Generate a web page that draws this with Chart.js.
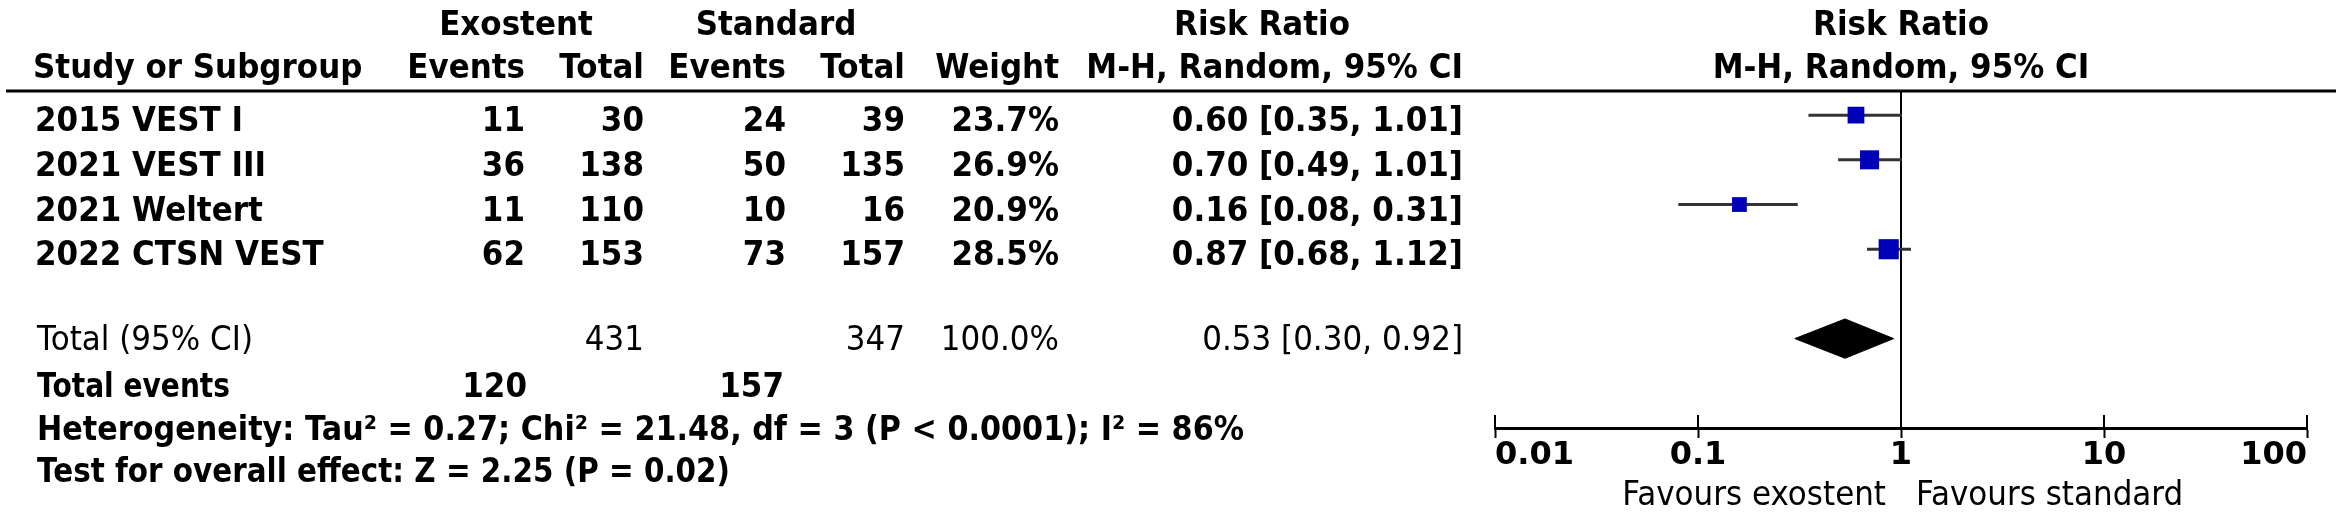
<!DOCTYPE html>
<html>
<head>
<meta charset="utf-8">
<script src="https://cdn.jsdelivr.net/npm/chart.js@4.4.1/dist/chart.umd.min.js"></script>
<style>
  html, body { margin: 0; padding: 0; background: #fff; }
  canvas { display: block; }
</style>
</head>
<body>
<canvas id="forest" width="2342" height="515"></canvas>
<script>
// study rows
const studies = ['2015 VEST I', '2021 VEST III', '2021 Weltert', '2022 CTSN VEST'];
const exoEvents = [11, 36, 11, 62];
const exoTotal = [30, 138, 110, 153];
const stdEvents = [24, 50, 10, 73];
const stdTotal = [39, 135, 16, 157];
const weights = [23.7, 26.9, 20.9, 28.5];
const riskRatio = [0.60, 0.70, 0.16, 0.87];
const ciLower = [0.35, 0.49, 0.08, 0.68];
const ciUpper = [1.01, 1.01, 0.31, 1.12];

// pooled (random effects) row
const pooledRR = 0.53;
const pooledLower = 0.30;
const pooledUpper = 0.92;
const totalExo = 431;
const totalStd = 347;
const totalWeight = 100.0;
const totalExoEvents = 120;
const totalStdEvents = 157;
const heterogeneity = 'Heterogeneity: Tau² = 0.27; Chi² = 21.48, df = 3 (P < 0.0001); I² = 86%';
const overallEffect = 'Test for overall effect: Z = 2.25 (P = 0.02)';

const xTicks = [0.01, 0.1, 1, 10, 100];
const favourLabels = ['Favours exostent', 'Favours standard'];

const totalRow = studies.length + 1;
const fmt = (v) => v.toFixed(2);
const rrText = (r, lo, hi) => `${fmt(r)} [${fmt(lo)}, ${fmt(hi)}]`;

const BOLD = 'bold 31px "DejaVu Sans"';
const NORMAL = '31px "DejaVu Sans"';
const STRETCH = 1.08; // the original text is a little taller than DejaVu

// x positions of the table columns (right edges unless noted)
const col = { study: 35, exoEv: 525, exoTot: 644, stdEv: 786, stdTot: 905, weight: 1059, rr: 1463 };

function txt(ctx, s, x, y, align, font, maxW) {
  ctx.save();
  ctx.translate(x, y);
  ctx.scale(1, STRETCH);
  ctx.font = font;
  ctx.textAlign = align;
  ctx.textBaseline = 'alphabetic';
  ctx.fillStyle = '#000';
  if (maxW) ctx.fillText(s, 0, 0, maxW);
  else ctx.fillText(s, 0, 0);
  ctx.restore();
}

function seg(ctx, x1, y1, x2, y2, w) {
  ctx.lineWidth = w;
  ctx.beginPath();
  ctx.moveTo(x1, y1);
  ctx.lineTo(x2, y2);
  ctx.stroke();
}

const forestTable = {
  id: 'forestTable',
  beforeDatasetsDraw(chart) {
    const { ctx, chartArea, scales: { x } } = chart;
    const one = x.getPixelForValue(1);
    ctx.save();
    ctx.strokeStyle = '#000';
    seg(ctx, 6, chartArea.top, 2336, chartArea.top, 3); // header rule
    seg(ctx, one, chartArea.top, one, chartArea.bottom, 2); // line of no effect
    // tick marks also poke up above the axis
    x.ticks.forEach((t) => {
      const px = x.getPixelForValue(t.value);
      seg(ctx, px, chartArea.bottom - 13, px, chartArea.bottom, 2);
    });
    ctx.restore();
  },
  afterDraw(chart) {
    const { ctx, scales: { x, y } } = chart;
    const one = x.getPixelForValue(1);

    // column headers
    txt(ctx, 'Exostent', 516, 35, 'center', BOLD);
    txt(ctx, 'Standard', 776, 35, 'center', BOLD);
    txt(ctx, 'Risk Ratio', 1262, 35, 'center', BOLD);
    txt(ctx, 'Risk Ratio', one, 35, 'center', BOLD);
    txt(ctx, 'Study or Subgroup', 33, 78, 'left', BOLD);
    txt(ctx, 'Events', col.exoEv, 78, 'right', BOLD);
    txt(ctx, 'Total', col.exoTot, 78, 'right', BOLD);
    txt(ctx, 'Events', col.stdEv, 78, 'right', BOLD);
    txt(ctx, 'Total', col.stdTot, 78, 'right', BOLD);
    txt(ctx, 'Weight', col.weight, 78, 'right', BOLD);
    txt(ctx, 'M-H, Random, 95% CI', col.rr, 78, 'right', BOLD);
    txt(ctx, 'M-H, Random, 95% CI', one, 78, 'center', BOLD);

    // study rows
    studies.forEach((s, i) => {
      const by = y.getPixelForValue(i) + 16;
      txt(ctx, s, col.study, by, 'left', BOLD);
      txt(ctx, String(exoEvents[i]), col.exoEv, by, 'right', BOLD);
      txt(ctx, String(exoTotal[i]), col.exoTot, by, 'right', BOLD);
      txt(ctx, String(stdEvents[i]), col.stdEv, by, 'right', BOLD);
      txt(ctx, String(stdTotal[i]), col.stdTot, by, 'right', BOLD);
      txt(ctx, weights[i].toFixed(1) + '%', col.weight, by, 'right', BOLD);
      txt(ctx, rrText(riskRatio[i], ciLower[i], ciUpper[i]), col.rr, by, 'right', BOLD);
    });

    // total row
    const ty = y.getPixelForValue(totalRow) + 11;
    txt(ctx, 'Total (95% CI)', 37, ty, 'left', NORMAL, 238);
    txt(ctx, String(totalExo), col.exoTot, ty, 'right', NORMAL);
    txt(ctx, String(totalStd), col.stdTot, ty, 'right', NORMAL);
    txt(ctx, totalWeight.toFixed(1) + '%', col.weight, ty, 'right', NORMAL);
    txt(ctx, rrText(pooledRR, pooledLower, pooledUpper), col.rr, ty, 'right', NORMAL);

    // footer lines
    txt(ctx, 'Total events', 37, 397, 'left', BOLD, 193);
    txt(ctx, String(totalExoEvents), 527, 397, 'right', BOLD);
    txt(ctx, String(totalStdEvents), 784, 397, 'right', BOLD);
    txt(ctx, heterogeneity, 37, 440, 'left', BOLD, 1207);
    txt(ctx, overallEffect, 37, 482, 'left', BOLD, 693);

    // favours labels under the axis
    txt(ctx, favourLabels[0], one - 15, 505, 'right', NORMAL);
    txt(ctx, favourLabels[1], one + 15, 505, 'left', NORMAL);
  }
};

const ciSets = studies.map((s, i) => ({
  type: 'line',
  label: s + ' 95% CI',
  data: [{ x: ciLower[i], y: i }, { x: ciUpper[i], y: i }],
  borderColor: '#333',
  borderWidth: 3,
  pointRadius: 0,
  order: 2
}));

const pointSet = {
  type: 'scatter',
  label: 'Risk ratio',
  data: riskRatio.map((v, i) => ({ x: v, y: i })),
  pointStyle: 'rect',
  pointRadius: weights.map((w) => w * 0.5),
  backgroundColor: '#0000b8',
  borderWidth: 0,
  order: 0
};

const diamondSet = {
  type: 'line',
  label: 'Total (95% CI)',
  data: [
    { x: pooledLower, y: totalRow },
    { x: pooledRR, y: totalRow - 0.44 },
    { x: pooledUpper, y: totalRow },
    { x: pooledRR, y: totalRow + 0.44 },
    { x: pooledLower, y: totalRow }
  ],
  borderColor: '#000',
  backgroundColor: '#000',
  borderWidth: 1,
  fill: 'shape',
  pointRadius: 0,
  tension: 0,
  order: 1
};

new Chart(document.getElementById('forest'), {
  type: 'scatter',
  data: { datasets: [...ciSets, pointSet, diamondSet] },
  options: {
    responsive: false,
    animation: false,
    devicePixelRatio: 1,
    layout: { padding: { left: 1495, right: 35, top: 91, bottom: 0 } },
    plugins: { legend: { display: false }, tooltip: { enabled: false } },
    scales: {
      x: {
        type: 'logarithmic',
        min: 0.01,
        max: 100,
        afterBuildTicks: (scale) => { scale.ticks = xTicks.map((v) => ({ value: v })); },
        afterFit: (scale) => { scale.height = 87; },
        border: { display: true, color: '#000', width: 3 },
        grid: { drawOnChartArea: false, drawTicks: true, tickLength: 10, tickWidth: 2, tickColor: '#000' },
        ticks: {
          align: 'inner',
          color: '#000',
          padding: 2,
          maxRotation: 0,
          autoSkip: false,
          font: { family: 'DejaVu Sans', size: 32, weight: 'bold', lineHeight: 1 },
          callback: (v) => String(v)
        }
      },
      y: { type: 'linear', display: false, reverse: true, min: -0.54, max: 7.0 }
    }
  },
  plugins: [forestTable]
});
</script>
</body>
</html>
